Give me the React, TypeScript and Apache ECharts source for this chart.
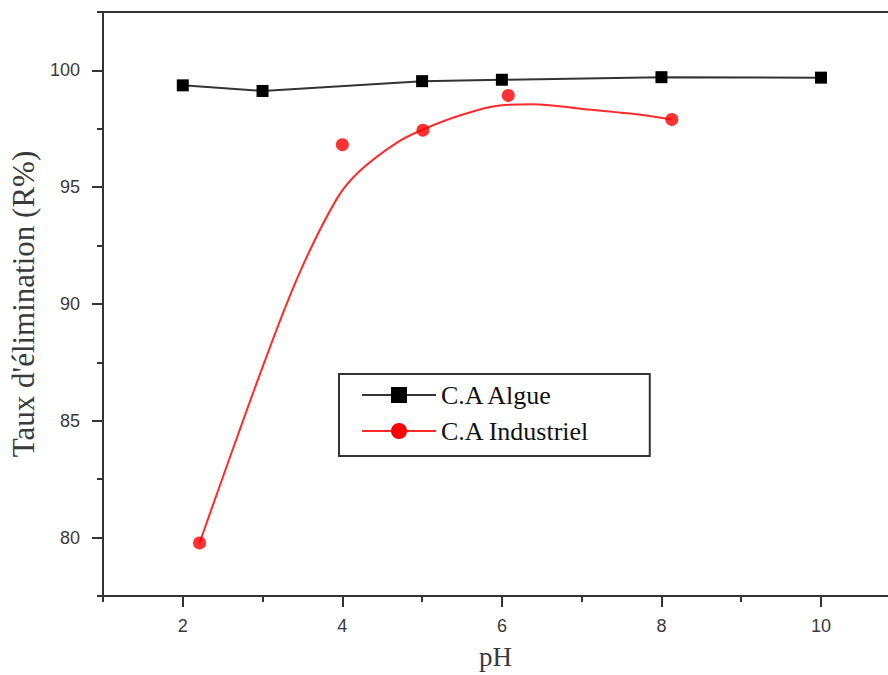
import React, { useEffect, useRef } from "react";
import * as echarts from "echarts";

// pH values and removal rates (R%)
const algueX = [2, 3, 5, 6, 8, 10];
const algueY = [99.36, 99.12, 99.54, 99.6, 99.71, 99.69];

const industrielX = [2.21, 4.0, 5.01, 6.08, 8.13];
const industrielY = [79.77, 96.82, 97.44, 98.93, 97.9];

// fitted curve of C.A Industriel
const fitX = [2.21, 2.42, 3.0, 3.46, 3.93, 4.22, 4.68, 5.01, 5.5, 5.97, 6.39, 6.98, 7.61, 8.13];
const fitY = [79.77, 81.8, 87.3, 91.3, 94.5, 95.7, 96.9, 97.47, 98.1, 98.5, 98.55, 98.36, 98.15, 97.9];

const xMajorTicks = [2, 4, 6, 8, 10];
const xMinorTicks = [1, 3, 5, 7, 9];
const yMajorTicks = [80, 85, 90, 95, 100];

const seriesNames = ["C.A Algue", "C.A Industriel"];

const zip = (xs: number[], ys: number[]) => xs.map((x, i) => [x, ys[i]]);

const SANS = "'Liberation Sans', Arial, sans-serif";
const SERIF = "'Liberation Serif', 'Times New Roman', serif";
const AXIS = "#333333";
const TEXT = "#3a3a3a";

export default function App() {
  const ref = useRef<HTMLDivElement>(null);

  useEffect(() => {
    if (!ref.current) return;
    const chart = echarts.init(ref.current, null, { renderer: "svg" });
    const baseX = {
      type: "value" as const,
      min: 1,
      max: 10.84,
      splitLine: { show: false },
    };
    const baseY = {
      type: "value" as const,
      min: 77.5,
      max: 102.5,
      position: "left" as const,
      splitLine: { show: false },
    };
    chart.setOption({
      animation: false,
      backgroundColor: "#ffffff",
      grid: {
        left: 103,
        top: 12,
        bottom: 77,
        right: 0,
        show: false,
      },
      legend: {
        orient: "vertical",
        left: 339,
        top: 374,
        data: seriesNames,
        itemWidth: 74,
        itemHeight: 20,
        itemGap: 10,
        padding: [8, 60, 12, 22],
        borderColor: AXIS,
        borderWidth: 2,
        textStyle: { fontFamily: SERIF, fontSize: 26, color: "#111" },
      },
      xAxis: [
        {
          ...baseX,
          position: "bottom",
          axisLine: { show: true, onZero: false, lineStyle: { color: AXIS, width: 2 } },
          axisTick: {
            show: true,
            length: 6,
            customValues: xMinorTicks,
            lineStyle: { color: AXIS, width: 2 },
          },
          axisLabel: { show: false },
          name: "pH",
          nameLocation: "middle",
          nameGap: 47,
          nameTextStyle: { fontFamily: SERIF, fontSize: 27, color: TEXT },
        },
        {
          ...baseX,
          position: "bottom",
          axisLine: { show: false, onZero: false },
          axisTick: {
            show: true,
            length: 11,
            customValues: xMajorTicks,
            lineStyle: { color: AXIS, width: 2 },
          },
          axisLabel: {
            show: true,
            customValues: xMajorTicks,
            margin: 21,
            fontFamily: SANS,
            fontSize: 18,
            color: TEXT,
          },
        },
        {
          ...baseX,
          position: "top",
          axisLine: { show: true, onZero: false, lineStyle: { color: AXIS, width: 2 } },
          axisTick: { show: false },
          axisLabel: { show: false },
        },
      ],
      yAxis: [
        {
          ...baseY,
          interval: 2.5,
          axisLine: { show: true, onZero: false, lineStyle: { color: AXIS, width: 2 } },
          axisTick: { show: true, length: 6, lineStyle: { color: AXIS, width: 2 } },
          axisLabel: { show: false },
          name: "Taux d'élimination (R%)",
          nameLocation: "middle",
          nameGap: 64,
          nameRotate: 90,
          nameTextStyle: { fontFamily: SERIF, fontSize: 31, color: TEXT },
        },
        {
          ...baseY,
          axisLine: { show: false, onZero: false },
          axisTick: {
            show: true,
            length: 11,
            customValues: yMajorTicks,
            lineStyle: { color: AXIS, width: 2 },
          },
          axisLabel: {
            show: true,
            customValues: yMajorTicks,
            margin: 23,
            fontFamily: SANS,
            fontSize: 18,
            color: TEXT,
          },
        },
      ],
      series: [
        {
          name: seriesNames[0],
          type: "line",
          xAxisIndex: 0,
          yAxisIndex: 0,
          data: zip(algueX, algueY),
          symbol: "rect",
          symbolSize: 12,
          itemStyle: { color: "#000000" },
          lineStyle: { color: "#333333", width: 2 },
          z: 3,
        },
        {
          name: seriesNames[1],
          type: "line",
          xAxisIndex: 0,
          yAxisIndex: 0,
          data: zip(fitX, fitY),
          smooth: 0.35,
          symbol: "circle",
          symbolSize: 12,
          showSymbol: false,
          itemStyle: { color: "#ff0000" },
          lineStyle: { color: "#ff2a2a", width: 2 },
          z: 2,
        },
        {
          name: "points",
          type: "scatter",
          xAxisIndex: 0,
          yAxisIndex: 0,
          data: zip(industrielX, industrielY),
          symbol: "circle",
          symbolSize: 13,
          itemStyle: { color: "#ff0000" },
          z: 4,
        },
      ],
    });
    return () => chart.dispose();
  }, []);

  return (
    <div
      ref={ref}
      style={{ position: "fixed", left: 0, top: 0, width: 888, height: 675 }}
    />
  );
}
